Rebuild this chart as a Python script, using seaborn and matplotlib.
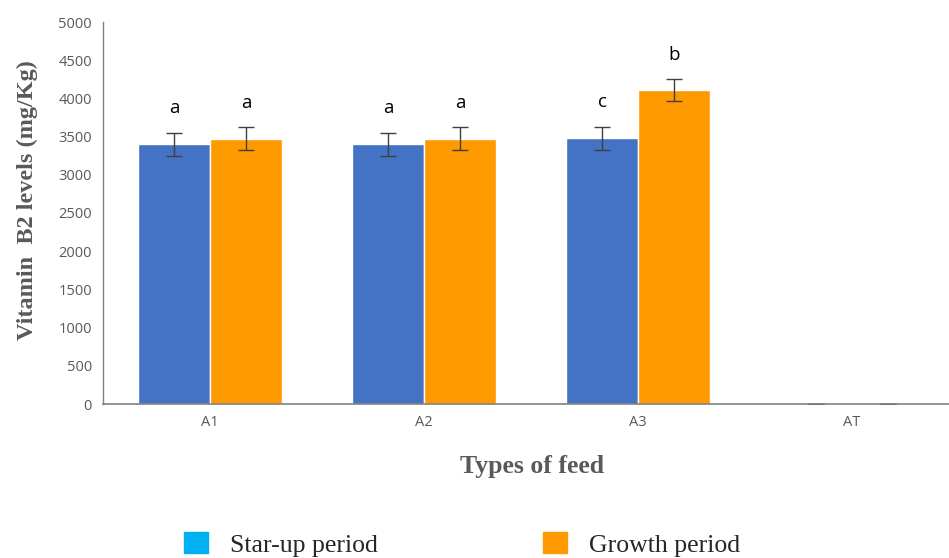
import matplotlib
matplotlib.use("Agg")
import matplotlib.pyplot as plt
import matplotlib.patches as mpatches
import seaborn as sns
import pandas as pd
import numpy as np

feeds = ["A1", "A2", "A3", "AT"]
periods = ["Star-up period", "Growth period"]
startup = [3400, 3400, 3480, 0]
growth = [3470, 3470, 4110, 0]
startup_err = [150, 150, 150, 0]
growth_err = [150, 150, 140, 0]
startup_letters = ["a", "a", "c", ""]
growth_letters = ["a", "a", "b", ""]

df = pd.DataFrame({
    "feed": feeds * 2,
    "period": [periods[0]] * 4 + [periods[1]] * 4,
    "value": startup + growth,
    "err": startup_err + growth_err,
    "letter": startup_letters + growth_letters,
})

sns.set_theme(style="white")
plt.rcParams["font.family"] = ["Open Sans", "DejaVu Sans"]

bar_blue = "#4472C4"
bar_orange = "#FF9900"
leg_blue = "#00B0F0"
grey = "#595959"

fig = plt.figure(figsize=(9.49, 5.58), dpi=100)
ax = fig.add_axes([103/949, (558-404)/558, 1 - 103/949, (404-22)/558])

sns.barplot(data=df, x="feed", y="value", hue="period", order=feeds,
            hue_order=periods, palette=[bar_blue, bar_orange],
            width=0.67, errorbar=None, ax=ax, legend=False, saturation=1)

# error bars and letters positioned from the drawn bars
bars = [p for p in ax.patches if isinstance(p, mpatches.Rectangle)]
for i, p in enumerate(bars[:8]):
    row = df.iloc[i]
    xc = p.get_x() + p.get_width() / 2
    ax.errorbar(xc, row["value"], yerr=row["err"], fmt="none",
                ecolor="#404040", elinewidth=1.0, capsize=5.5, capthick=1.0)
    if row["letter"]:
        ax.text(xc, row["value"] + row["err"] + 320, row["letter"],
                ha="center", va="center", fontsize=13.5, color="black")

ax.set_ylim(0, 5000)
ax.set_yticks(np.arange(0, 5001, 500))
ax.set_xlim(-0.5, (949 - 103) / 214 - 0.5)
ax.tick_params(axis="both", length=0, labelsize=10.5, labelcolor=grey, pad=8)
for s in ["top", "right"]:
    ax.spines[s].set_visible(False)
ax.spines["left"].set_color("#808080")
ax.spines["bottom"].set_color("#808080")
ax.spines["left"].set_linewidth(1.0)
ax.spines["bottom"].set_linewidth(1.2)

ax.set_ylabel("Vitamin  B2 levels (mg/Kg)", family=["Liberation Serif"],
              fontsize=17.5, fontweight="bold", color=grey)
ax.yaxis.label.set_va("center")
ax.yaxis.set_label_coords((27 - 103) / 846, (404 - 200) / 382)
ax.set_xlabel("Types of feed", family=["Liberation Serif"], fontsize=18.5,
              fontweight="bold", color=grey)
ax.xaxis.label.set_va("center")
ax.xaxis.set_label_coords((532 - 103) / 846, (404 - 467) / 382)

handles = [mpatches.Patch(color=leg_blue, label=periods[0]),
           mpatches.Patch(color=bar_orange, label=periods[1])]
fig.legend(handles=handles, loc="center", bbox_to_anchor=(0.487, 0.024),
           ncol=2, frameon=False, prop={"family": "Liberation Serif", "size": 18.5},
           handlelength=0.93, handleheight=0.86, handletextpad=0.86,
           columnspacing=6.4)

fig.savefig("out.png", dpi=100)
